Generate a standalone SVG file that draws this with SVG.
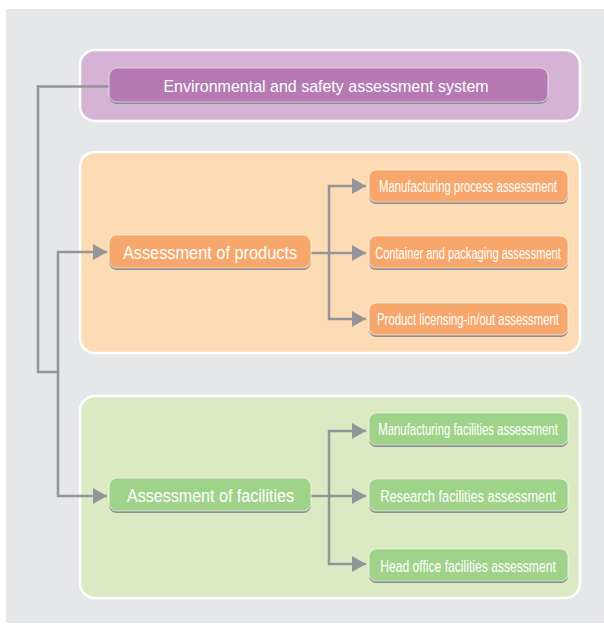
<svg xmlns="http://www.w3.org/2000/svg" width="604" height="626" viewBox="0 0 604 626">
  <defs>
    <marker id="arrow" markerUnits="userSpaceOnUse" markerWidth="15" markerHeight="16" refX="14" refY="8" orient="auto">
      <path d="M0,0 L14,8 L0,16 z" fill="#939598"/>
    </marker>
  </defs>
  <style>
    .panel { stroke: #ffffff; stroke-width: 2.5; }
    .shade { fill: #8d8c8e; }
    .node { stroke: rgba(255,255,255,0.55); stroke-width: 1.2; }
    .txt { font-family: "Liberation Sans", Arial, sans-serif; fill: #ffffff; text-anchor: middle; }
    .big { font-size: 18.5px; }
    .mid { font-size: 17px; }
    .small { font-size: 17px; }
    .wire { fill: none; stroke: #939598; stroke-width: 2.5; }
    .purple .panel { fill: #d5b3d5; }
    .purple .node { fill: #b579b3; }
    .orange .panel { fill: #fddbb5; }
    .orange .node { fill: #f7a76c; }
    .green .panel { fill: #dbeac3; }
    .green .node { fill: #a0d38a; }
  </style>

  <!-- backdrop -->
  <rect x="6" y="9" width="598" height="614" fill="#e6e7e8"/>

  <!-- panels -->
  <g class="purple"><rect class="panel" x="80" y="50" width="500" height="71" rx="15"/></g>
  <g class="orange"><rect class="panel" x="80" y="152" width="500" height="201" rx="15"/></g>
  <g class="green"><rect class="panel" x="80" y="396" width="500" height="202" rx="15"/></g>

  <!-- connectors -->
  <g id="connectors">
    <path class="wire" d="M109,86.5 H38 V372 H58"/>
    <path class="wire" d="M58,373 V252 H107" marker-end="url(#arrow)"/>
    <path class="wire" d="M58,371 V496 H107" marker-end="url(#arrow)"/>
    <path class="wire" d="M311,253 H366" marker-end="url(#arrow)"/>
    <path class="wire" d="M329,254 V186 H366" marker-end="url(#arrow)"/>
    <path class="wire" d="M329,252 V319 H366" marker-end="url(#arrow)"/>
    <path class="wire" d="M311,496 H366" marker-end="url(#arrow)"/>
    <path class="wire" d="M329,497 V431 H366" marker-end="url(#arrow)"/>
    <path class="wire" d="M329,495 V564 H366" marker-end="url(#arrow)"/>
  </g>

  <!-- top node -->
  <g id="system" class="purple">
    <rect class="shade" x="109" y="70" width="439" height="34" rx="8"/>
    <rect class="node" x="109" y="68" width="439" height="34" rx="8"/>
    <text class="txt mid" transform="translate(326,92) scale(0.94,1)" textLength="346" lengthAdjust="spacingAndGlyphs">Environmental and safety assessment system</text>
  </g>

  <!-- products branch -->
  <g id="products" class="orange">
    <rect class="shade" x="109" y="237" width="202" height="33" rx="8"/>
    <rect class="node" x="109" y="235" width="202" height="33" rx="8"/>
    <text class="txt big" transform="translate(210,258.5) scale(0.88,1)" textLength="198" lengthAdjust="spacingAndGlyphs">Assessment of products</text>
  </g>
  <g id="manufacturing-process" class="orange">
    <rect class="shade" x="369" y="172" width="199" height="32" rx="7"/>
    <rect class="node" x="369" y="170" width="199" height="32" rx="7"/>
    <text class="txt small" transform="translate(468,192) scale(0.664,1)" textLength="268" lengthAdjust="spacingAndGlyphs">Manufacturing process assessment</text>
  </g>
  <g id="container-packaging" class="orange">
    <rect class="shade" x="369" y="238" width="199" height="32" rx="7"/>
    <rect class="node" x="369" y="236" width="199" height="32" rx="7"/>
    <text class="txt small" transform="translate(468,258.5) scale(0.654,1)" textLength="284" lengthAdjust="spacingAndGlyphs">Container and packaging assessment</text>
  </g>
  <g id="product-licensing" class="orange">
    <rect class="shade" x="369" y="305" width="199" height="32" rx="7"/>
    <rect class="node" x="369" y="303" width="199" height="32" rx="7"/>
    <text class="txt small" transform="translate(468,325) scale(0.669,1)" textLength="272" lengthAdjust="spacingAndGlyphs">Product licensing-in/out assessment</text>
  </g>

  <!-- facilities branch -->
  <g id="facilities" class="green">
    <rect class="shade" x="109" y="480" width="202" height="33" rx="8"/>
    <rect class="node" x="109" y="478" width="202" height="33" rx="8"/>
    <text class="txt big" transform="translate(210.5,501.5) scale(0.87,1)" textLength="192" lengthAdjust="spacingAndGlyphs">Assessment of facilities</text>
  </g>
  <g id="manufacturing-facilities" class="green">
    <rect class="shade" x="369" y="415" width="199" height="32" rx="7"/>
    <rect class="node" x="369" y="413" width="199" height="32" rx="7"/>
    <text class="txt small" transform="translate(468,435) scale(0.668,1)" textLength="269" lengthAdjust="spacingAndGlyphs">Manufacturing facilities assessment</text>
  </g>
  <g id="research-facilities" class="green">
    <rect class="shade" x="369" y="481" width="199" height="32" rx="7"/>
    <rect class="node" x="369" y="479" width="199" height="32" rx="7"/>
    <text class="txt small" transform="translate(468,502) scale(0.754,1)" textLength="233" lengthAdjust="spacingAndGlyphs">Research facilities assessment</text>
  </g>
  <g id="head-office-facilities" class="green">
    <rect class="shade" x="369" y="551" width="199" height="32" rx="7"/>
    <rect class="node" x="369" y="549" width="199" height="32" rx="7"/>
    <text class="txt small" transform="translate(468,571.5) scale(0.714,1)" textLength="246" lengthAdjust="spacingAndGlyphs">Head office facilities assessment</text>
  </g>
</svg>
